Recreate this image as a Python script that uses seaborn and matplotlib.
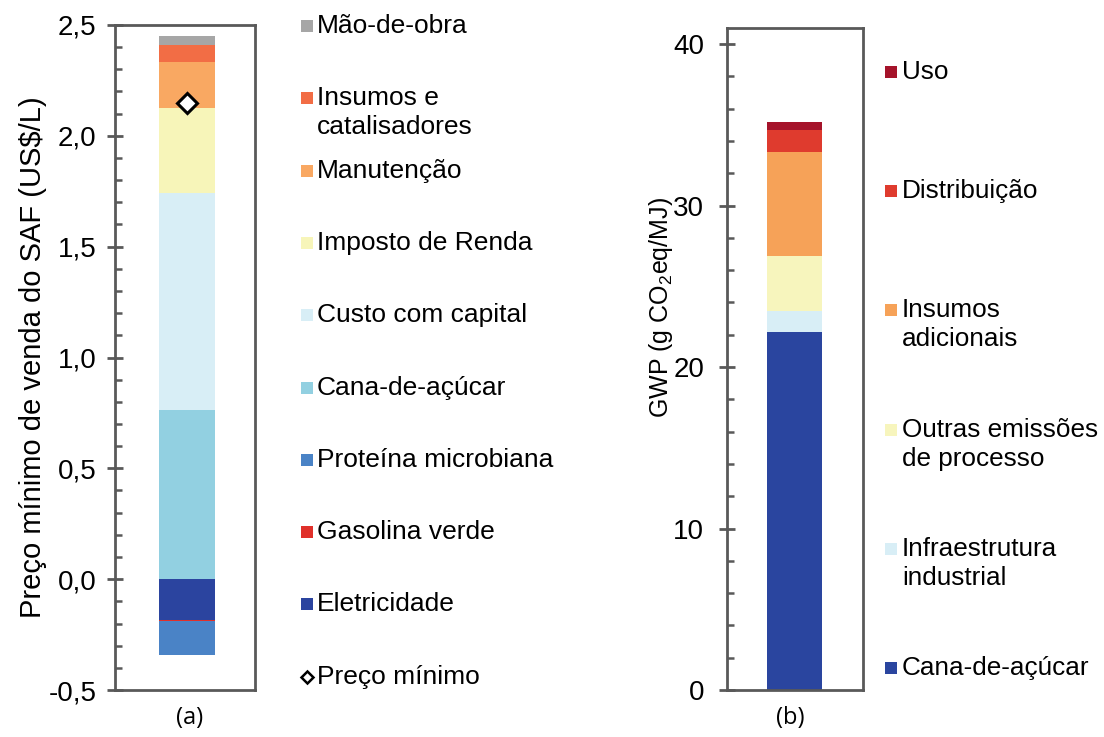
#==========================================
# Custo (a) e GWP (b) do SAF - barras empilhadas
#==========================================

import matplotlib
matplotlib.use("Agg")
import matplotlib.pyplot as plt
from matplotlib.lines import Line2D
from matplotlib.ticker import MultipleLocator, FuncFormatter
import seaborn as sns

# (a) preco minimo de venda - parcelas positivas, de baixo pra cima
custo_pos_labels = ["Cana-de-açúcar", "Custo com capital", "Imposto de Renda",
                    "Manutenção", "Insumos e\ncatalisadores", "Mão-de-obra"]
custo_pos_values = [0.762, 0.979, 0.384, 0.208, 0.079, 0.037]
# parcelas negativas (creditos), de cima pra baixo
custo_neg_labels = ["Eletricidade", "Gasolina verde", "Proteína microbiana"]
custo_neg_values = [-0.183, -0.004, -0.156]
preco_minimo = 2.15

# (b) GWP, de baixo pra cima
gwp_labels = ["Cana-de-açúcar", "Infraestrutura\nindustrial", "Outras emissões\nde processo",
              "Insumos\nadicionais", "Distribuição", "Uso"]
gwp_values = [22.2, 1.3, 3.35, 6.45, 1.37, 0.53]

# legendas na ordem do grafico (de cima pra baixo)
legenda_a = ["Mão-de-obra", "Insumos e\ncatalisadores", "Manutenção", "Imposto de Renda",
             "Custo com capital", "Cana-de-açúcar", "Proteína microbiana", "Gasolina verde",
             "Eletricidade", "Preço mínimo"]
legenda_b = ["Uso", "Distribuição", "Insumos\nadicionais", "Outras emissões\nde processo",
             "Infraestrutura\nindustrial", "Cana-de-açúcar"]

cores_a = {"Cana-de-açúcar": "#92d0e1", "Custo com capital": "#d8eef6",
           "Imposto de Renda": "#f7f5b9", "Manutenção": "#f9a862",
           "Insumos e\ncatalisadores": "#f26d45", "Mão-de-obra": "#a6a6a6",
           "Eletricidade": "#2b449f", "Gasolina verde": "#e0302a",
           "Proteína microbiana": "#4a83c6"}
cores_b = {"Cana-de-açúcar": "#2a459f", "Infraestrutura\nindustrial": "#d8eef6",
           "Outras emissões\nde processo": "#f7f5bd", "Insumos\nadicionais": "#f6a258",
           "Distribuição": "#df3b2e", "Uso": "#a5132a"}

sns.set_style("ticks")
plt.rcParams['font.family'] = ['Liberation Sans', 'DejaVu Sans']
plt.rcParams['mathtext.fontset'] = 'custom'
plt.rcParams['mathtext.rm'] = 'Liberation Sans'
plt.rcParams['text.color'] = 'black'
plt.rcParams['axes.labelcolor'] = 'black'

W, H = 1104, 737
fig = plt.figure(figsize=(W / 100, H / 100), dpi=100)
ax1 = fig.add_axes([115 / W, 1 - 690 / H, 140 / W, 665 / H])
ax2 = fig.add_axes([727 / W, 1 - 690 / H, 136 / W, 662 / H])

SPINE = "#595959"


def stack(ax, labels, values, cores):
    base = 0.0
    for lab, v in zip(labels, values):
        sns.barplot(x=["x"], y=[v], bottom=base, color=cores[lab], saturation=1,
                    width=0.8, errorbar=None, linewidth=0, ax=ax)
        base += v


stack(ax1, custo_pos_labels, custo_pos_values, cores_a)
stack(ax1, custo_neg_labels, custo_neg_values, cores_a)
ax1.plot([0], [preco_minimo], marker="D", ms=10, mfc="white", mec="black", mew=2.2, ls="none")
stack(ax2, gwp_labels, gwp_values, cores_b)

ax1.set_ylim(-0.5, 2.5)
ax1.set_xlim(-1.03, 0.97)
ax1.yaxis.set_major_locator(MultipleLocator(0.5))
ax1.yaxis.set_minor_locator(MultipleLocator(0.1))
ax1.yaxis.set_major_formatter(FuncFormatter(lambda v, p: f"{v:.1f}".replace(".", ",")))
ax1.set_ylabel("Preço mínimo de venda do SAF (US$/L)", fontsize=21, labelpad=1)

ax2.set_ylim(0, 41)
ax2.set_xlim(-0.98, 1.0)
ax2.yaxis.set_major_locator(MultipleLocator(10))
ax2.yaxis.set_minor_locator(MultipleLocator(2))
ax2.set_ylabel(r"GWP (g CO$_\mathregular{2}$eq/MJ)", fontsize=18)
ax2.yaxis.set_label_coords(-0.38, 0.578)

for ax, fs, pd_ in [(ax1, 20, 8), (ax2, 20, 11)]:
    ax.set_xticks([])
    ax.set_xlabel("")
    for s in ax.spines.values():
        s.set_visible(True)
        s.set_color(SPINE)
        s.set_linewidth(2)
    ax.tick_params(axis="y", which="major", direction="inout", length=11, width=2,
                   color=SPINE, labelcolor="black", labelsize=fs, pad=pd_)
    ax.tick_params(axis="y", which="minor", direction="in", length=5, width=1.8, color=SPINE)
    ax.grid(False)


def legenda(nomes, cores, x_mark, x_txt, y0, dy, fs):
    for i, nome in enumerate(nomes):
        y = y0 + i * dy
        if nome in cores:
            fig.add_artist(Line2D([x_mark / W], [1 - y / H], marker="s", ms=9, mew=0,
                                  color=cores[nome], transform=fig.transFigure))
        else:
            fig.add_artist(Line2D([x_mark / W], [1 - y / H], marker="D", ms=6.5, mfc="white",
                                  mec="black", mew=1.8, transform=fig.transFigure))
        for k, linha in enumerate(nome.split("\n")):
            fig.text(x_txt / W, 1 - (y + k * 29) / H, linha, fontsize=fs,
                     ha="left", va="center")


legenda(legenda_a, cores_a, 307, 317, 26, 72.3, 19)
legenda(legenda_b, cores_b, 891, 902, 72, 119.2, 18.8)

fig.text(190 / W, 1 - 718 / H, "(a)", fontsize=17, ha="center", va="center", family="Open Sans")
fig.text(790 / W, 1 - 718 / H, "(b)", fontsize=17, ha="center", va="center", family="Open Sans")

plt.savefig("out.png", dpi=100)
